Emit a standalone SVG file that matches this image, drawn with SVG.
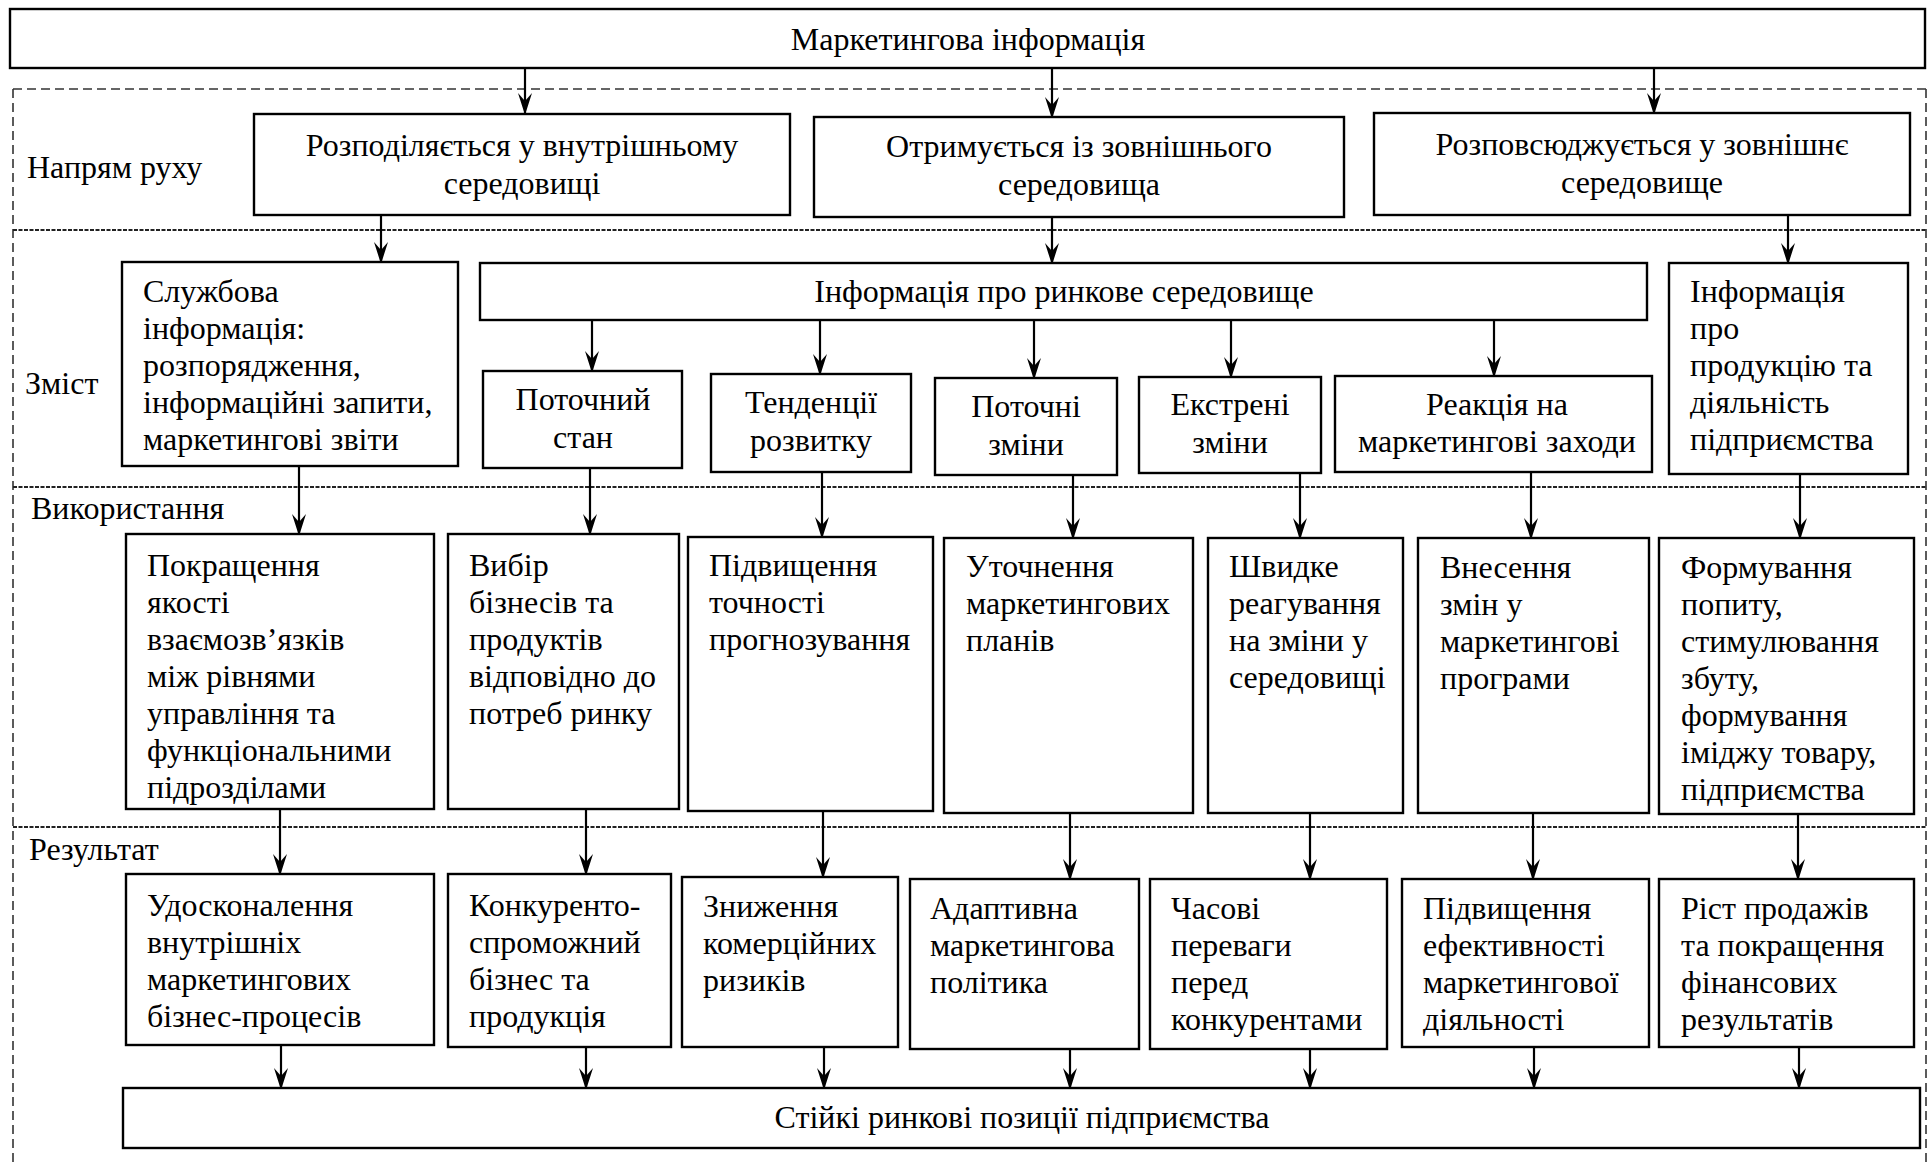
<svg xmlns="http://www.w3.org/2000/svg" width="1928" height="1166" viewBox="0 0 1928 1166">
<defs>
<style>
.box{fill:#fff;stroke:#000;stroke-width:2.4}
.t{font-family:"Liberation Serif","Times New Roman",serif;font-size:32px;fill:#000}
.c{text-anchor:middle}
.a{stroke:#000;stroke-width:2.2;fill:none;marker-end:url(#ah)}
.frame{stroke:#333;stroke-width:1.6;fill:none;stroke-dasharray:9 5}
.div{stroke:#222;stroke-width:2;fill:none;stroke-dasharray:4 1.5}
</style>
<marker id="ah" viewBox="0 0 22 14" refX="20" refY="7" markerWidth="22" markerHeight="14" markerUnits="userSpaceOnUse" orient="auto">
<path d="M0,0 L22,7 L0,14 L8,7 Z" fill="#000"/>
</marker>
</defs>
<rect width="1928" height="1166" fill="#fff"/>

<g id="frame">
<line class="frame" x1="13" y1="89" x2="1926" y2="89"/>
<line class="frame" x1="13" y1="89" x2="13" y2="1166"/>
<line class="frame" x1="1926" y1="89" x2="1926" y2="1166"/>
<line class="div" x1="13" y1="230" x2="1926" y2="230"/>
<line class="div" x1="13" y1="487" x2="1926" y2="487"/>
<line class="div" x1="13" y1="827" x2="1926" y2="827"/>
</g>

<g id="labels">
<text class="t" x="27" y="178">Напрям руху</text>
<text class="t" x="25" y="394">Зміст</text>
<text class="t" x="31" y="519">Використання</text>
<text class="t" x="29" y="860">Результат</text>
</g>

<g id="connectors">
<line class="a" x1="525" y1="68" x2="525" y2="113"/>
<line class="a" x1="1052" y1="68" x2="1052" y2="117"/>
<line class="a" x1="1654" y1="68" x2="1654" y2="113"/>
<line class="a" x1="381" y1="215" x2="381" y2="262"/>
<line class="a" x1="1052" y1="217" x2="1052" y2="263"/>
<line class="a" x1="1788" y1="215" x2="1788" y2="263"/>
<line class="a" x1="592" y1="320" x2="592" y2="371"/>
<line class="a" x1="820" y1="320" x2="820" y2="374"/>
<line class="a" x1="1034" y1="320" x2="1034" y2="378"/>
<line class="a" x1="1231" y1="320" x2="1231" y2="377"/>
<line class="a" x1="1494" y1="320" x2="1494" y2="376"/>
<line class="a" x1="299" y1="466" x2="299" y2="534"/>
<line class="a" x1="590" y1="468" x2="590" y2="534"/>
<line class="a" x1="822" y1="472" x2="822" y2="537"/>
<line class="a" x1="1073" y1="469" x2="1073" y2="538"/>
<line class="a" x1="1300" y1="469" x2="1300" y2="538"/>
<line class="a" x1="1531" y1="472" x2="1531" y2="538"/>
<line class="a" x1="1800" y1="463" x2="1800" y2="538"/>
<line class="a" x1="280" y1="809" x2="280" y2="874"/>
<line class="a" x1="586" y1="809" x2="586" y2="874"/>
<line class="a" x1="823" y1="811" x2="823" y2="877"/>
<line class="a" x1="1070" y1="813" x2="1070" y2="879"/>
<line class="a" x1="1310" y1="813" x2="1310" y2="879"/>
<line class="a" x1="1533" y1="813" x2="1533" y2="879"/>
<line class="a" x1="1798" y1="810" x2="1798" y2="879"/>
<line class="a" x1="281" y1="1045" x2="281" y2="1088"/>
<line class="a" x1="586" y1="1047" x2="586" y2="1088"/>
<line class="a" x1="824" y1="1047" x2="824" y2="1088"/>
<line class="a" x1="1070" y1="1049" x2="1070" y2="1088"/>
<line class="a" x1="1310" y1="1049" x2="1310" y2="1088"/>
<line class="a" x1="1534" y1="1047" x2="1534" y2="1088"/>
<line class="a" x1="1799" y1="1047" x2="1799" y2="1088"/>
</g>

<g id="n-top">
<rect class="box" x="10" y="9" width="1915" height="59"/>
<text class="t c" x="968" y="50">Маркетингова інформація</text>
</g>

<g id="n-rozpodil">
<rect class="box" x="254" y="114" width="536" height="101"/>
<text class="t c" x="522" y="156">Розподіляється у внутрішньому</text>
<text class="t c" x="522" y="194">середовищі</text>
</g>
<g id="n-otrymuie">
<rect class="box" x="814" y="117" width="530" height="100"/>
<text class="t c" x="1079" y="157">Отримується із зовнішнього</text>
<text class="t c" x="1079" y="195">середовища</text>
</g>
<g id="n-rozpovs">
<rect class="box" x="1374" y="113" width="536" height="102"/>
<text class="t c" x="1642" y="155">Розповсюджується у зовнішнє</text>
<text class="t c" x="1642" y="193">середовище</text>
</g>

<g id="n-sluzhbova">
<rect class="box" x="122" y="262" width="336" height="204"/>
<text class="t" x="143" y="302">Службова</text>
<text class="t" x="143" y="339">інформація:</text>
<text class="t" x="143" y="376">розпорядження,</text>
<text class="t" x="143" y="413">інформаційні запити,</text>
<text class="t" x="143" y="450">маркетингові звіти</text>
</g>
<g id="n-rynok">
<rect class="box" x="480" y="263" width="1167" height="57"/>
<text class="t c" x="1064" y="302">Інформація про ринкове середовище</text>
</g>
<g id="n-produktsiia">
<rect class="box" x="1669" y="263" width="239" height="211"/>
<text class="t" x="1690" y="302">Інформація</text>
<text class="t" x="1690" y="339">про</text>
<text class="t" x="1690" y="376">продукцію та</text>
<text class="t" x="1690" y="413">діяльність</text>
<text class="t" x="1690" y="450">підприємства</text>
</g>

<g id="n-potochnyi">
<rect class="box" x="483" y="371" width="199" height="97"/>
<text class="t c" x="583" y="410">Поточний</text>
<text class="t c" x="583" y="448">стан</text>
</g>
<g id="n-tendentsii">
<rect class="box" x="711" y="374" width="200" height="98"/>
<text class="t c" x="811" y="413">Тенденції</text>
<text class="t c" x="811" y="451">розвитку</text>
</g>
<g id="n-potochni">
<rect class="box" x="935" y="378" width="182" height="97"/>
<text class="t c" x="1026" y="417">Поточні</text>
<text class="t c" x="1026" y="455">зміни</text>
</g>
<g id="n-ekstreni">
<rect class="box" x="1139" y="377" width="182" height="96"/>
<text class="t c" x="1230" y="415">Екстрені</text>
<text class="t c" x="1230" y="453">зміни</text>
</g>
<g id="n-reaktsiia">
<rect class="box" x="1335" y="376" width="317" height="96"/>
<text class="t c" x="1497" y="415">Реакція на</text>
<text class="t c" x="1497" y="452">маркетингові заходи</text>
</g>

<g id="n-pokrashchennia">
<rect class="box" x="126" y="534" width="308" height="275"/>
<text class="t" x="147" y="576">Покращення</text>
<text class="t" x="147" y="613">якості</text>
<text class="t" x="147" y="650">взаємозв’язків</text>
<text class="t" x="147" y="687">між рівнями</text>
<text class="t" x="147" y="724">управління та</text>
<text class="t" x="147" y="761">функціональними</text>
<text class="t" x="147" y="798">підрозділами</text>
</g>
<g id="n-vybir">
<rect class="box" x="448" y="534" width="231" height="275"/>
<text class="t" x="469" y="576">Вибір</text>
<text class="t" x="469" y="613">бізнесів та</text>
<text class="t" x="469" y="650">продуктів</text>
<text class="t" x="469" y="687">відповідно до</text>
<text class="t" x="469" y="724">потреб ринку</text>
</g>
<g id="n-tochnist">
<rect class="box" x="688" y="537" width="245" height="274"/>
<text class="t" x="709" y="576">Підвищення</text>
<text class="t" x="709" y="613">точності</text>
<text class="t" x="709" y="650">прогнозування</text>
</g>
<g id="n-utochnennia">
<rect class="box" x="944" y="538" width="249" height="275"/>
<text class="t" x="966" y="577">Уточнення</text>
<text class="t" x="966" y="614">маркетингових</text>
<text class="t" x="966" y="651">планів</text>
</g>
<g id="n-shvydke">
<rect class="box" x="1208" y="538" width="195" height="275"/>
<text class="t" x="1229" y="577">Швидке</text>
<text class="t" x="1229" y="614">реагування</text>
<text class="t" x="1229" y="651">на зміни у</text>
<text class="t" x="1229" y="688">середовищі</text>
</g>
<g id="n-vnesennia">
<rect class="box" x="1418" y="538" width="231" height="275"/>
<text class="t" x="1440" y="578">Внесення</text>
<text class="t" x="1440" y="615">змін у</text>
<text class="t" x="1440" y="652">маркетингові</text>
<text class="t" x="1440" y="689">програми</text>
</g>
<g id="n-formuvannia">
<rect class="box" x="1659" y="538" width="255" height="276"/>
<text class="t" x="1681" y="578">Формування</text>
<text class="t" x="1681" y="615">попиту,</text>
<text class="t" x="1681" y="652">стимулювання</text>
<text class="t" x="1681" y="689">збуту,</text>
<text class="t" x="1681" y="726">формування</text>
<text class="t" x="1681" y="763">іміджу товару,</text>
<text class="t" x="1681" y="800">підприємства</text>
</g>

<g id="n-udoskonalennia">
<rect class="box" x="126" y="874" width="308" height="171"/>
<text class="t" x="147" y="916">Удосконалення</text>
<text class="t" x="147" y="953">внутрішніх</text>
<text class="t" x="147" y="990">маркетингових</text>
<text class="t" x="147" y="1027">бізнес-процесів</text>
</g>
<g id="n-konkurento">
<rect class="box" x="448" y="874" width="223" height="173"/>
<text class="t" x="469" y="916">Конкуренто-</text>
<text class="t" x="469" y="953">спроможний</text>
<text class="t" x="469" y="990">бізнес та</text>
<text class="t" x="469" y="1027">продукція</text>
</g>
<g id="n-znyzhennia">
<rect class="box" x="682" y="877" width="216" height="170"/>
<text class="t" x="703" y="917">Зниження</text>
<text class="t" x="703" y="954">комерційних</text>
<text class="t" x="703" y="991">ризиків</text>
</g>
<g id="n-adaptyvna">
<rect class="box" x="910" y="879" width="229" height="170"/>
<text class="t" x="930" y="919">Адаптивна</text>
<text class="t" x="930" y="956">маркетингова</text>
<text class="t" x="930" y="993">політика</text>
</g>
<g id="n-chasovi">
<rect class="box" x="1150" y="879" width="237" height="170"/>
<text class="t" x="1171" y="919">Часові</text>
<text class="t" x="1171" y="956">переваги</text>
<text class="t" x="1171" y="993">перед</text>
<text class="t" x="1171" y="1030">конкурентами</text>
</g>
<g id="n-efektyvnist">
<rect class="box" x="1402" y="879" width="247" height="168"/>
<text class="t" x="1423" y="919">Підвищення</text>
<text class="t" x="1423" y="956">ефективності</text>
<text class="t" x="1423" y="993">маркетингової</text>
<text class="t" x="1423" y="1030">діяльності</text>
</g>
<g id="n-rist">
<rect class="box" x="1659" y="879" width="255" height="168"/>
<text class="t" x="1681" y="919">Ріст продажів</text>
<text class="t" x="1681" y="956">та покращення</text>
<text class="t" x="1681" y="993">фінансових</text>
<text class="t" x="1681" y="1030">результатів</text>
</g>

<g id="n-bottom">
<rect class="box" x="123" y="1088" width="1797" height="60"/>
<text class="t c" x="1022" y="1128">Стійкі ринкові позиції підприємства</text>
</g>
</svg>
